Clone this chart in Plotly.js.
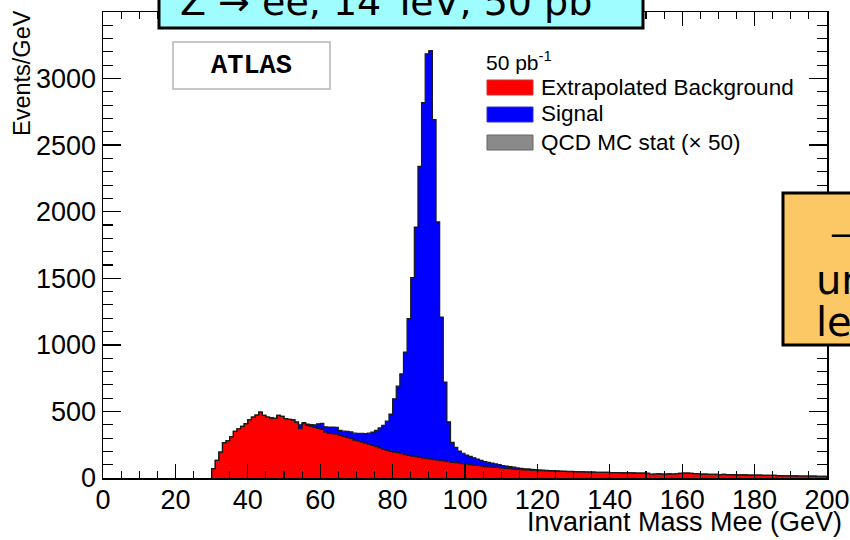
<!DOCTYPE html>
<html>
<head>
<meta charset="utf-8">
<script src="https://cdn.plot.ly/plotly-3.0.1.min.js"></script>
<style>html,body{margin:0;padding:0;background:#fff;}#chart{width:850px;height:540px;}</style>
</head>
<body>
<div id="chart"></div>
<script>
// Invariant mass bins (GeV, 1 GeV wide) from 30 to 200
const binStart = 30;
const binWidth = 1;
// Extrapolated background, Events/GeV, bins 30..199
const backgroundValues = [
  70,133,195,265,280,310,350,370,388,408,
  438,458,472,495,470,458,452,448,470,463,
  446,440,436,420,370,408,395,388,380,372,
  365,345,335,333,330,320,312,305,297,285,
  278,270,262,252,245,235,226,215,207,200,
  195,190,182,176,170,165,160,155,150,146,
  142,138,134,130,126,122,118,115,112,108,
  104,100,97,94,90,86,84,82,80,78,
  74,72,70,67,64,62,60,60,58,57,
  56,55,54,52,52,51,50,49,48,48,
  47,46,46,45,44,44,43,43,42,42,
  41,40,40,39,39,38,38,37,37,36,
  35,28,30,31,29,30,31,30,32,35,
  36,37,34,33,32,30,29,28,28,27,
  26,27,26,25,24,24,23,23,22,22,
  21,21,20,20,19,19,18,18,17,17,
  16,16,15,15,15,14,14,13,13,13
];
// Signal (Z -> ee), Events/GeV, bins 30..199
const signalValues = [
  0,0,0,0,0,0,0,0,0,0,
  0,0,0,0,0,0,0,0,0,0,
  0,0,0,0,30,8,10,14,20,35,
  45,40,48,50,50,38,40,45,49,52,
  58,66,72,85,100,123,150,180,220,280,
  400,500,600,770,1027,1340,1725,2186,2670,3040,
  3068,2554,1789,1079,595,300,150,115,90,78,
  68,62,55,48,43,38,33,30,26,22,
  20,18,16,14,12,10,9,8,7,6,
  5,4,4,3,3,3,2,2,2,2,
  1,1,1,1,1,0,0,0,0,0,
  0,0,0,0,0,0,0,0,0,0,
  0,0,0,0,0,0,0,0,0,0,
  0,0,0,0,0,0,0,0,0,0,
  0,0,0,0,0,0,0,0,0,0,
  0,0,0,0,0,0,0,0,0,0,
  0,0,0,0,0,0,0,0,0,0
];
const xTickVals = [0,20,40,60,80,100,120,140,160,180,200];
const yTickVals = [0,500,1000,1500,2000,2500,3000,3500];
const legendLabels = ["Extrapolated Background", "Signal", "QCD MC stat (\u00d7 50)"];
const lumiLabel = "50 pb<sup>-1</sup>";
const headerLabel = "Z \u2192 ee, 14 TeV, 50 pb<sup>-1</sup>";
const xTitle = "Invariant Mass Mee (GeV)";
const yTitle = "Events/GeV";

// Build step outlines (bin edges) from the arrays
const edges = [binStart];
const bgY = [0];
const totY = [0];
for (let i = 0; i < backgroundValues.length; i++) {
  edges.push(binStart + i * binWidth);
  bgY.push(backgroundValues[i]);
  totY.push(backgroundValues[i] + signalValues[i]);
}
const lastEdge = binStart + backgroundValues.length * binWidth;
edges.push(lastEdge); bgY.push(backgroundValues[backgroundValues.length-1]); totY.push(backgroundValues[backgroundValues.length-1] + signalValues[signalValues.length-1]);
edges.push(lastEdge); bgY.push(0); totY.push(0);

const outline = '#1a1a1a';
const traces = [
  {type:'scatter', mode:'lines', x:edges, y:bgY, line:{shape:'hv', color:outline, width:1.2},
   fill:'tozeroy', fillcolor:'#ff0000', name:legendLabels[0], showlegend:false, hoverinfo:'skip'},
  {type:'scatter', mode:'lines', x:edges, y:totY, line:{shape:'hv', color:outline, width:1.2},
   fill:'tonexty', fillcolor:'#0000ff', name:legendLabels[1], showlegend:false, hoverinfo:'skip'}
];

// pixel -> paper helpers
const L = 103, R = 23, T = 12, B = 62, PW = 850 - L - R, PH = 540 - T - B;
const px = x => (x - L) / PW;
const py = y => (540 - B - y) / PH;

const font = 'Liberation Sans, Arial, Helvetica, sans-serif';

const shapes = [
  // ATLAS label box
  {type:'rect', xref:'paper', yref:'paper', x0:px(173), x1:px(330), y0:py(89), y1:py(42),
   line:{color:'#b5b5b5', width:1.5}, fillcolor:'#ffffff', layer:'above'},
  // legend swatches
  {type:'rect', xref:'paper', yref:'paper', x0:px(487), x1:px(533), y0:py(95), y1:py(80),
   line:{color:'#cc3333', width:1}, fillcolor:'#ff0000', layer:'above'},
  {type:'rect', xref:'paper', yref:'paper', x0:px(487), x1:px(533), y0:py(122), y1:py(107),
   line:{color:'#3333cc', width:1}, fillcolor:'#0000ff', layer:'above'},
  {type:'rect', xref:'paper', yref:'paper', x0:px(487), x1:px(533), y0:py(150), y1:py(135),
   line:{color:'#666666', width:1}, fillcolor:'#8a8a8a', layer:'above'},
  // cyan header box
  {type:'rect', xref:'paper', yref:'paper', x0:px(159), x1:px(643), y0:py(28), y1:py(-10),
   line:{color:'#000000', width:3}, fillcolor:'#9ffcff', layer:'above'},
  // orange side box
  {type:'rect', xref:'paper', yref:'paper', x0:px(783), x1:px(880), y0:py(345), y1:py(193),
   line:{color:'#000000', width:3}, fillcolor:'#fcc866', layer:'above'}
];

const annotations = [
  {xref:'paper', yref:'paper', x:px(251), y:py(66), xanchor:'center', yanchor:'middle', showarrow:false,
   text:'<b>ATLAS</b>', font:{family:'Liberation Mono, Courier New, monospace', size:27, color:'#000'}},
  {xref:'paper', yref:'paper', x:px(484), y:py(61), xanchor:'left', yanchor:'middle', showarrow:false,
   text:lumiLabel, font:{family:font, size:21, color:'#000'}},
  {xref:'paper', yref:'paper', x:px(539), y:py(87), xanchor:'left', yanchor:'middle', showarrow:false,
   text:legendLabels[0], font:{family:font, size:22.5, color:'#000'}},
  {xref:'paper', yref:'paper', x:px(539), y:py(114), xanchor:'left', yanchor:'middle', showarrow:false,
   text:legendLabels[1], font:{family:font, size:22.5, color:'#000'}},
  {xref:'paper', yref:'paper', x:px(539), y:py(142), xanchor:'left', yanchor:'middle', showarrow:false,
   text:legendLabels[2], font:{family:font, size:22.5, color:'#000'}},
  {xref:'paper', yref:'paper', x:px(844), y:py(522), xanchor:'right', yanchor:'middle', showarrow:false,
   text:xTitle, font:{family:font, size:27, color:'#000'}},
  {xref:'paper', yref:'paper', x:px(22), y:py(8), xanchor:'center', yanchor:'top', showarrow:false, textangle:-90,
   text:yTitle, font:{family:font, size:23.5, color:'#000'}},
  {xref:'paper', yref:'paper', x:px(178), y:py(-1), xanchor:'left', yanchor:'middle', showarrow:false,
   text:headerLabel, font:{family:'DejaVu Sans, sans-serif', size:38, color:'#000'}},
  {xref:'paper', yref:'paper', x:px(828), y:py(233), xanchor:'left', yanchor:'middle', showarrow:false,
   text:'\u2014', font:{family:'DejaVu Sans, sans-serif', size:36, color:'#000'}},
  {xref:'paper', yref:'paper', x:px(814), y:py(280), xanchor:'left', yanchor:'middle', showarrow:false,
   text:'un', font:{family:'DejaVu Sans, sans-serif', size:40, color:'#000'}},
  {xref:'paper', yref:'paper', x:px(814), y:py(322), xanchor:'left', yanchor:'middle', showarrow:false,
   text:'le', font:{family:'DejaVu Sans, sans-serif', size:40, color:'#000'}}
];

const layout = {
  width:850, height:540,
  margin:{l:L, r:R, t:T, b:B, pad:0},
  paper_bgcolor:'#ffffff', plot_bgcolor:'#ffffff',
  showlegend:false,
  font:{family:font, color:'#000'},
  xaxis:{range:[0,200], tickvals:xTickVals, ticktext:xTickVals.map(String),
    ticks:'inside', ticklen:14, tickwidth:1.3, tickcolor:'#000', ticklabelstandoff:-3,
    minor:{dtick:5, tick0:0, ticks:'inside', ticklen:7, tickwidth:1.1, tickcolor:'#000'},
    showline:true, linecolor:'#000', linewidth:1.5, mirror:'ticks',
    showgrid:false, zeroline:false, tickfont:{family:font, size:27, color:'#000'}},
  yaxis:{range:[0,3500], tickvals:yTickVals, ticktext:yTickVals.map(String),
    ticks:'inside', ticklen:18, tickwidth:1.3, tickcolor:'#000',
    minor:{dtick:100, tick0:0, ticks:'inside', ticklen:10, tickwidth:1.1, tickcolor:'#000'},
    showline:true, linecolor:'#000', linewidth:1.5, mirror:'ticks',
    showgrid:false, zeroline:false, tickfont:{family:font, size:27, color:'#000'}},
  shapes:shapes,
  annotations:annotations
};

Plotly.newPlot('chart', traces, layout, {displayModeBar:false, staticPlot:true});
</script>
</body>
</html>
